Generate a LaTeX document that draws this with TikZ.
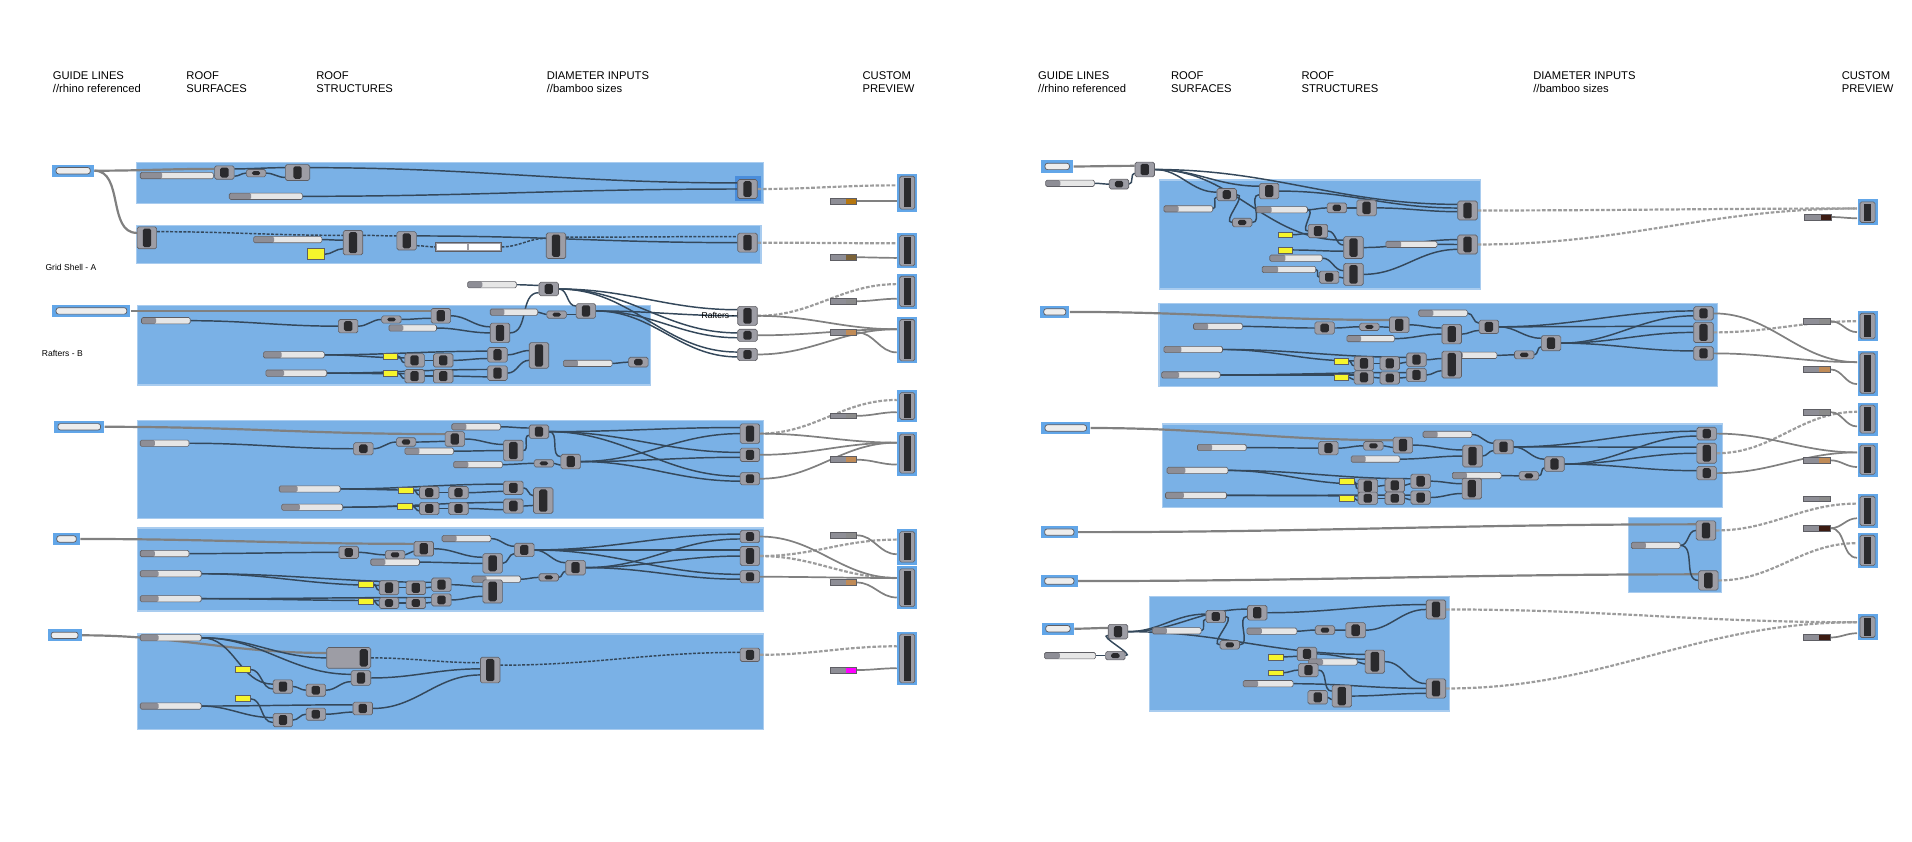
\documentclass[tikz,border=0pt]{standalone}
\usepackage{fontspec}
\setmainfont{Liberation Sans}
\pgfdeclarelayer{background}
\pgfdeclarelayer{wires}
\pgfsetlayers{background,wires,main}

\definecolor{grpfill}{HTML}{7AB1E6}
\definecolor{grpline}{HTML}{A9CCEF}
\definecolor{frameblue}{HTML}{62A6E8}
\definecolor{hiblue}{HTML}{4A8DDB}
\definecolor{compbody}{HTML}{9D9DA5}
\definecolor{compedge}{HTML}{5E5E64}
\definecolor{compdark}{HTML}{2A2A2D}
\definecolor{sllabel}{HTML}{8E8E96}
\definecolor{slbody}{HTML}{E6E6E6}
\definecolor{wirecol}{HTML}{34485B}
\definecolor{guidecol}{HTML}{808080}
\definecolor{dashcol}{HTML}{9C9C9C}
\definecolor{panelyel}{HTML}{F6F52C}
\definecolor{swbrown}{HTML}{B5760F}
\definecolor{swolive}{HTML}{7B6238}
\definecolor{swgrey}{HTML}{8B8B8B}
\definecolor{swtan}{HTML}{C08B57}
\definecolor{swdark}{HTML}{3C1B12}
\definecolor{swpink}{HTML}{FF00FF}

\tikzset{
  hdr/.style={anchor=north west, inner sep=0pt, align=left, font=\fontsize{4.6}{5.1}\selectfont},
  lbl/.style={anchor=base west, inner sep=0pt, font=\fontsize{3.5}{4}\selectfont},
  grp/.style={fill=grpfill, draw=grpline, line width=0.5pt},
  comp/.style={draw=compedge, fill=compbody, line width=0.25pt, rounded corners=0.7pt,
    minimum width=8pt, minimum height=#1, inner sep=0pt,
    path picture={\fill[compdark] ([xshift=-1.7pt,yshift=-0.7pt]path picture bounding box.north)
      rectangle ([xshift=1.7pt,yshift=0.7pt]path picture bounding box.south);}},
  comp/.default=6pt,
  slider/.style={draw=compedge, fill=slbody, line width=0.25pt, rounded corners=0.6pt,
    minimum width=#1, minimum height=2.6pt, inner sep=0pt,
    path picture={\fill[sllabel] (path picture bounding box.south west)
      rectangle ([xshift=0.3*#1]path picture bounding box.north west);}},
  ypanel/.style={draw=compedge, fill=panelyel, line width=0.25pt, minimum width=6pt,
    minimum height=2.4pt, inner sep=0pt},
  txtpanel/.style={draw=compedge, fill=compbody, line width=0.25pt, minimum width=27pt,
    minimum height=3.5pt, inner sep=0pt,
    path picture={\fill[white] ([shift={(0.5pt,-0.6pt)}]path picture bounding box.north west)
      rectangle ([shift={(-0.4pt,0.6pt)}]path picture bounding box.south);
      \fill[white] ([shift={(0.4pt,-0.6pt)}]path picture bounding box.north)
      rectangle ([shift={(-0.5pt,0.6pt)}]path picture bounding box.south east);}},
  guide/.style={fill=frameblue, minimum width=#1+3pt, minimum height=5pt, inner sep=0pt,
    path picture={\draw[compedge, fill=slbody!70, line width=0.3pt, rounded corners=1pt]
      ([shift={(1.5pt,-1.2pt)}]path picture bounding box.north west)
      rectangle ([shift={(-1.5pt,1.2pt)}]path picture bounding box.south east);}},
  preview/.style={fill=frameblue, minimum width=8.2pt, minimum height=#1+2pt, inner sep=0pt,
    path picture={\draw[compedge, fill=compbody, line width=0.25pt, rounded corners=0.7pt]
      ([shift={(1pt,-1pt)}]path picture bounding box.north west)
      rectangle ([shift={(-1pt,1pt)}]path picture bounding box.south east);
      \fill[compdark] ([shift={(-1.5pt,-1.7pt)}]path picture bounding box.north)
      rectangle ([shift={(1.5pt,1.7pt)}]path picture bounding box.south);}},
  swatch/.style={draw=compedge, fill=sllabel, line width=0.25pt, minimum width=11pt,
    minimum height=2.4pt, inner sep=0pt,
    path picture={\fill[#1] ([xshift=-4.5pt]path picture bounding box.north east)
      rectangle (path picture bounding box.south east);}},
  wire/.style={draw=wirecol, line width=0.6pt, out=0, in=180},
  treewire/.style={wire, dash pattern=on 1.2pt off 0.6pt},
  guidewire/.style={draw=guidecol, line width=0.9pt, out=0, in=180},
  outwire/.style={draw=guidecol, line width=0.7pt, out=0, in=180},
  prevwire/.style={draw=dashcol, line width=0.9pt, dash pattern=on 1.5pt off 0.7pt, out=0, in=180}
}

\begin{document}
\begin{tikzpicture}[x=0.5pt, y=-0.5pt]
\useasboundingbox (0,0) rectangle (1568,690.5);

% headers
\node[hdr] (hGuideL) at (43,58.5) {GUIDE LINES\\//rhino referenced};
\node[hdr] (hSurfL) at (152.5,58.5) {ROOF\\SURFACES};
\node[hdr] (hStructL) at (259,58.5) {ROOF\\STRUCTURES};
\node[hdr] (hDiamL) at (448,58.5) {DIAMETER INPUTS\\//bamboo sizes};
\node[hdr] (hPrevL) at (707,58.5) {CUSTOM\\PREVIEW};
\node[hdr] (hGuideR) at (851,58.5) {GUIDE LINES\\//rhino referenced};
\node[hdr] (hSurfR) at (960,58.5) {ROOF\\SURFACES};
\node[hdr] (hStructR) at (1067,58.5) {ROOF\\STRUCTURES};
\node[hdr] (hDiamR) at (1257,58.5) {DIAMETER INPUTS\\//bamboo sizes};
\node[hdr] (hPrevR) at (1510,58.5) {CUSTOM\\PREVIEW};

\node[lbl] (lblGrid) at (37,222) {Grid Shell - A};
\node[lbl] (lblRaftL) at (34,292.5) {Rafters - B};
\node[lbl] (lblRaftM) at (575,261) {Rafters - B};

% groups
\begin{pgfonlayer}{background}
  \path[grp] (112,133) rectangle (626,167);
  \fill[hiblue] (602.7,144) rectangle (623.7,165);
  \path[grp] (112,185) rectangle (624,216);
  \path[grp] (113,250.7) rectangle (533.5,315.7);
  \path[grp] (113,345) rectangle (626,425);
  \path[grp] (113,433) rectangle (626,501);
  \path[grp] (113,520) rectangle (626,598);
  \path[grp] (951,147.6) rectangle (1214,237);
  \path[grp] (950.5,248.7) rectangle (1408.4,317);
  \path[grp] (953.3,347.7) rectangle (1412.5,416);
  \path[grp] (1335.4,424.2) rectangle (1411.6,485.7);
  \path[grp] (942.7,489.2) rectangle (1188.4,583);
\end{pgfonlayer}

% previews and swatches, left
\node[preview=13.5pt] (p1) at (744,158) {};
\node[preview=12.5pt] (p2) at (744,205.5) {};
\node[preview=12.5pt] (p3) at (744,239) {};
\node[preview=17pt] (p4) at (744,279) {};
\node[preview=11pt] (p5) at (744,333) {};
\node[preview=16pt] (p6) at (744,372) {};
\node[preview=12.5pt] (p7) at (744,448.5) {};
\node[preview=15.5pt] (p8) at (744,482) {};
\node[preview=20pt] (p9) at (744,540) {};
\node[swatch=swbrown] (s1) at (691.5,165) {};
\node[swatch=swolive] (s2) at (691.5,211) {};
\node[swatch=swgrey] (s3) at (691.5,247) {};
\node[swatch=swtan] (s4) at (691.5,272.6) {};
\node[swatch=swgrey] (s5) at (691.5,341) {};
\node[swatch=swtan] (s6) at (691.5,377) {};
\node[swatch=swgrey] (s7) at (691.5,439) {};
\node[swatch=swtan] (s8) at (691.5,477.7) {};
\node[swatch=swpink] (s9) at (691.5,549.5) {};

% G1
\node[guide=14pt] (g1in) at (60,140) {};
\node[slider=30pt] (g1sl) at (145,144) {};
\node[comp=5.5pt] (g1br) at (184,141.5) {};
\node[comp=3pt] (g1e) at (210,142) {};
\node[comp=6.5pt, minimum width=10pt] (g1bn) at (244,141.5) {};
\node[slider=30pt] (g1sl2) at (218,161) {};
\node[comp=7.8pt] (g1pipe) at (613,155) {};

% G2
\node[comp=9pt] (g2pf) at (120.5,195) {};
\node[slider=28pt] (g2sl) at (236,196.5) {};
\node[ypanel, minimum width=7pt, minimum height=4.5pt] (g2pan) at (259,208.5) {};
\node[comp=10pt] (g2poly) at (289.5,199) {};
\node[comp=7.5pt] (g2exp) at (333.5,197.5) {};
\node[txtpanel] (g2txt) at (384,202.5) {};
\node[comp=10.5pt] (g2int) at (456,201.5) {};
\node[comp=7.8pt] (g2pipe) at (613,199) {};

% G3
\node[guide=29pt] (g3in) at (75,255) {};
\node[slider=20pt] (g3rad) at (403.5,233.5) {};
\node[comp=5.5pt] (g3ctr) at (450,237) {};
\node[slider=20pt] (g3rsl) at (136,263) {};
\node[comp=5.5pt] (g3sd) at (285.5,267.5) {};
\node[comp=3pt] (g3pt) at (321,262) {};
\node[comp=6pt] (g3mv) at (361.5,259) {};
\node[slider=19.5pt] (g3cnt) at (338.5,269) {};
\node[comp=8pt] (g3pl) at (410,273) {};
\node[slider=19.5pt] (g3fac) at (421.5,256) {};
\node[comp=3pt] (g3x) at (456.5,258) {};
\node[comp=6pt] (g3mv2) at (480.5,255) {};
\node[comp=7.8pt] (g3pipe) at (613,259) {};
\node[comp=5pt] (g3lfa) at (613,275) {};
\node[comp=5pt] (g3lfb) at (613,290.7) {};
\node[slider=25pt] (g3gi1) at (241,291) {};
\node[slider=25pt] (g3gi2) at (243,306) {};
\node[ypanel] (g3ya) at (320,292) {};
\node[ypanel] (g3yb) at (320,306) {};
\node[comp=5.5pt] (g3a) at (340,295.5) {};
\node[comp=5.5pt] (g3b) at (363.5,295.5) {};
\node[comp=5.5pt] (g3c) at (340,308.5) {};
\node[comp=5.5pt] (g3d) at (363.5,308.5) {};
\node[comp=6pt] (g3e) at (408,291) {};
\node[comp=6pt] (g3f) at (408,306) {};
\node[comp=10.5pt] (g3rect) at (442,291.5) {};
\node[slider=20pt] (g3fac2) at (482,298) {};
\node[comp=4pt] (g3z) at (523.5,297) {};

% G4
\node[guide=17.5pt] (g4in) at (65,350) {};
\node[slider=20pt] (g4tot) at (135,363.5) {};
\node[comp=5pt] (g4sd) at (298,368) {};
\node[comp=3.5pt] (g4pt) at (333,362.5) {};
\node[comp=6pt] (g4mv) at (373,360) {};
\node[slider=20pt] (g4rad) at (390.5,350) {};
\node[comp=5.5pt] (g4ctr) at (442,354) {};
\node[slider=20pt] (g4cnt) at (352,370) {};
\node[comp=8.5pt] (g4pl) at (421,369.5) {};
\node[slider=20pt] (g4fac) at (392,381) {};
\node[comp=3pt] (g4x) at (446,380) {};
\node[comp=6pt] (g4mv2) at (468,378.5) {};
\node[comp=8pt] (g4pipe) at (615,355.6) {};
\node[comp=5.5pt] (g4lfa) at (615,373) {};
\node[comp=5pt] (g4lfb) at (615,392.6) {};
\node[slider=25pt] (g4gi1) at (254,401) {};
\node[slider=25pt] (g4gi2) at (256,416) {};
\node[ypanel] (g4ya) at (333,402) {};
\node[ypanel] (g4yb) at (332,415.3) {};
\node[comp=5pt] (g4a) at (352,404) {};
\node[comp=5pt] (g4b) at (376,404) {};
\node[comp=5pt] (g4c) at (352,417) {};
\node[comp=5pt] (g4d) at (376,417) {};
\node[comp=5.5pt] (g4e) at (421,400) {};
\node[comp=5.75pt] (g4f) at (421,415) {};
\node[comp=10.5pt] (g4rect) at (445.5,410.5) {};

% G5
\node[guide=8pt] (g5in) at (54.6,442) {};
\node[slider=20pt] (g5tot) at (135,454) {};
\node[comp=5pt] (g5sd) at (286,453) {};
\node[comp=3.5pt] (g5pt) at (324,455) {};
\node[comp=6pt] (g5mv) at (347.5,450) {};
\node[slider=20pt] (g5rad) at (382.5,441.7) {};
\node[comp=5.5pt] (g5ctr) at (430,451) {};
\node[slider=20pt] (g5cnt) at (324,461) {};
\node[comp=8pt] (g5pl) at (404,462) {};
\node[comp=6pt] (g5mv2) at (472,465.5) {};
\node[comp=3pt] (g5x) at (450,473.5) {};
\node[slider=20pt] (g5fac) at (407,475) {};
\node[slider=25pt] (g5gi1) at (140,470.5) {};
\node[slider=25pt] (g5gi2) at (140,491) {};
\node[ypanel] (g5ya) at (300,479) {};
\node[ypanel] (g5yb) at (300,493) {};
\node[comp=5.75pt] (g5a) at (319,482) {};
\node[comp=5.5pt] (g5b) at (341,482) {};
\node[comp=5.5pt] (g5c) at (362,479.5) {};
\node[comp=4.5pt] (g5d) at (319,494.5) {};
\node[comp=4.5pt] (g5e) at (341,494.5) {};
\node[comp=5pt] (g5f) at (362,492) {};
\node[comp=9.5pt] (g5rect) at (404,485) {};
\node[comp=5pt] (g5lfa) at (615,440) {};
\node[comp=7.8pt] (g5pipe) at (615,456) {};
\node[comp=5pt] (g5lfb) at (615,473) {};

% G6
\node[guide=11pt] (g6in) at (53,521) {};
\node[slider=25pt] (g6gi) at (140,523) {};
\node[comp=8.5pt, minimum width=18pt, path picture={\fill[compdark]
  ([xshift=-4.5pt,yshift=-0.7pt]path picture bounding box.north east)
  rectangle ([xshift=-1.2pt,yshift=0.7pt]path picture bounding box.south east);}] (g6big) at (286,539.5) {};
\node[ypanel] (g6ya) at (199,549) {};
\node[ypanel] (g6yb) at (199,573) {};
\node[comp=5.5pt] (g6a) at (232,563) {};
\node[comp=5pt] (g6b) at (259,566) {};
\node[comp=6pt] (g6c) at (296,556) {};
\node[comp=5.5pt] (g6d) at (232,590.5) {};
\node[comp=5pt] (g6e) at (259,585.7) {};
\node[comp=5.25pt] (g6f) at (297.5,581) {};
\node[comp=10.5pt] (g6rect) at (402,549.5) {};
\node[comp=5.5pt] (g6loft) at (615,537) {};
\node[slider=25pt] (g6gi2) at (140,579) {};

% right previews and swatches
\node[preview=8.5pt] (pr1) at (1531.5,174) {};
\node[preview=10.5pt] (pr2) at (1531.5,267.4) {};
\node[preview=16.5pt] (pr3) at (1531.5,306) {};
\node[preview=11.5pt] (pr4) at (1531.5,343.7) {};
\node[preview=12pt] (pr5) at (1531.5,377) {};
\node[preview=12pt] (pr6) at (1531.5,419) {};
\node[preview=12.5pt] (pr7) at (1531.5,451.4) {};
\node[preview=8.5pt] (pr8) at (1531.5,514.3) {};
\node[swatch=swdark] (sr1) at (1491,178) {};
\node[swatch=swgrey] (sr2) at (1490,263.4) {};
\node[swatch=swtan] (sr3) at (1490,303) {};
\node[swatch=swgrey] (sr4) at (1490,338) {};
\node[swatch=swtan] (sr5) at (1490,377.5) {};
\node[swatch=swgrey] (sr6) at (1490,409) {};
\node[swatch=swdark] (sr7) at (1490,433.2) {};
\node[swatch=swdark] (sr8) at (1490,522.8) {};

% RG1
\node[guide=10pt] (r1in) at (867,136.5) {};
\node[comp=6pt] (r1ex) at (938.8,139) {};
\node[slider=20pt] (r1sl) at (877.5,150.3) {};
\node[comp=4pt] (r1n) at (917.7,151) {};
\node[comp=5pt] (r1sd) at (1006,159.6) {};
\node[comp=6.35pt] (r1mv) at (1040.8,156.7) {};
\node[slider=20pt] (r1val) at (974.5,171.3) {};
\node[comp=3.5pt] (r1sm) at (1018.7,182.5) {};
\node[slider=21pt] (r1sl2) at (1051.2,172) {};
\node[comp=4pt] (r1z) at (1096.3,170.5) {};
\node[comp=6.5pt] (r1mv2) at (1120.7,170.5) {};
\node[comp=7.8pt] (r1pipe) at (1203.5,172.6) {};
\node[comp=5.5pt] (r1q) at (1080.8,189.5) {};
\node[ypanel] (r1ya) at (1054,192.5) {};
\node[ypanel] (r1yb) at (1054,205) {};
\node[comp=9pt] (r1off) at (1110,203) {};
\node[slider=21pt] (r1rad) at (1157.5,200.4) {};
\node[comp=7.8pt] (r1pipe2) at (1203.5,200.5) {};
\node[slider=21.5pt] (r1dist) at (1062.8,211.7) {};
\node[slider=22pt] (r1val2) at (1057,221) {};
\node[comp=5pt] (r1w) at (1090,227.3) {};
\node[comp=9pt] (r1off2) at (1110,225) {};

% RG2
\node[guide=9pt] (r2in) at (865,255.8) {};
\node[slider=20pt] (r2tot) at (998.8,267.7) {};
\node[comp=5pt] (r2sd) at (1086.3,269) {};
\node[comp=3pt] (r2pt) at (1123,268) {};
\node[comp=6.4pt] (r2mv) at (1147.5,266.4) {};
\node[slider=20pt] (r2rad) at (1183.4,256.8) {};
\node[comp=8pt] (r2pl) at (1190.5,274) {};
\node[slider=19.5pt] (r2cnt) at (1124,277.7) {};
\node[comp=5.5pt] (r2ctr) at (1221,268) {};
\node[comp=6.2pt] (r2mv2) at (1272,281.4) {};
\node[slider=20pt] (r2fac) at (1207.6,291.4) {};
\node[comp=3.3pt] (r2x) at (1250,291) {};
\node[slider=24pt] (r2gi1) at (978.5,286.6) {};
\node[slider=24pt] (r2gi2) at (976.6,307.5) {};
\node[ypanel] (r2ya) at (1100,296) {};
\node[ypanel] (r2yb) at (1100,309.5) {};
\node[comp=5.75pt] (r2a) at (1118.5,298) {};
\node[comp=5.5pt] (r2b) at (1139.7,298) {};
\node[comp=5.5pt] (r2c) at (1161.6,295) {};
\node[comp=5.5pt] (r2d) at (1118.5,309.5) {};
\node[comp=5pt] (r2e) at (1139.7,310) {};
\node[comp=5.5pt] (r2f) at (1161.6,307.5) {};
\node[comp=11pt] (r2rect) at (1190.5,299) {};
\node[comp=5.5pt] (r2lfa) at (1397,257) {};
\node[comp=8.3pt] (r2pipe) at (1397,272.6) {};
\node[comp=5.5pt] (r2lfb) at (1397,289.8) {};

% RG3
\node[guide=17pt] (r3in) at (874,351) {};
\node[slider=20pt] (r3tot) at (1002,367) {};
\node[comp=5.5pt] (r3sd) at (1089.4,367.5) {};
\node[comp=3.5pt] (r3pt) at (1126.3,365.6) {};
\node[comp=6.5pt] (r3mv) at (1150.5,365) {};
\node[slider=20pt] (r3rad) at (1187,356.3) {};
\node[comp=9pt] (r3pl) at (1207.6,374) {};
\node[slider=20pt] (r3cnt) at (1128,376.5) {};
\node[comp=5.75pt] (r3ctr) at (1233,366.5) {};
\node[comp=6pt] (r3mv2) at (1274.8,380.6) {};
\node[slider=20pt] (r3fac) at (1211,390) {};
\node[comp=3.4pt] (r3x) at (1253.8,390.2) {};
\node[slider=25pt] (r3gi1) at (982,385.8) {};
\node[slider=25pt] (r3gi2) at (980.8,406.3) {};
\node[ypanel] (r3ya) at (1104.3,395) {};
\node[ypanel] (r3yb) at (1104.3,408.6) {};
\node[comp=6pt] (r3a) at (1121.7,398.8) {};
\node[comp=5.5pt] (r3b) at (1143.8,398) {};
\node[comp=5.8pt] (r3c) at (1165,394.6) {};
\node[comp=5pt] (r3d) at (1121.7,408.6) {};
\node[comp=5pt] (r3e) at (1143.8,408.6) {};
\node[comp=5.5pt] (r3f) at (1165,408) {};
\node[comp=8.5pt] (r3rect) at (1207,400.7) {};
\node[comp=5.2pt] (r3lfa) at (1399.6,355.6) {};
\node[comp=8.2pt] (r3pipe) at (1399.6,371.7) {};
\node[comp=5.5pt] (r3lfb) at (1399.6,388) {};

% RG4
\node[guide=12pt] (r4ina) at (868.7,436.4) {};
\node[guide=12pt] (r4inb) at (868.7,476.5) {};
\node[comp=7.9pt] (r4pa) at (1399,435) {};
\node[slider=20pt] (r4sl) at (1357.8,447.3) {};
\node[comp=7.9pt] (r4pb) at (1401,476) {};

% RG5
\node[guide=10pt] (r5in) at (867.6,515.6) {};
\node[comp=6pt] (r5ex) at (916.8,518) {};
\node[slider=21pt] (r5sl) at (877.5,537.7) {};
\node[comp=3.5pt] (r5n) at (914.7,537.7) {};
\node[slider=20pt] (r5val) at (965,517.3) {};
\node[comp=5pt] (r5sd) at (997,505.6) {};
\node[comp=6pt] (r5mv) at (1031,502.5) {};
\node[comp=3.5pt] (r5sm) at (1008.5,528.8) {};
\node[slider=20.5pt] (r5sl2) at (1043,517.6) {};
\node[comp=3.5pt] (r5z) at (1086.6,516.7) {};
\node[comp=6.2pt] (r5mv2) at (1111.7,516.8) {};
\node[comp=7.8pt] (r5pipe) at (1177.6,499.8) {};
\node[ypanel] (r5ya) at (1046,538.7) {};
\node[ypanel] (r5yb) at (1046,551.7) {};
\node[comp=5.5pt] (r5q) at (1071.8,536.3) {};
\node[comp=9.5pt] (r5off) at (1127.5,542.6) {};
\node[slider=20pt] (r5dist) at (1093,542.9) {};
\node[comp=5.5pt] (r5w) at (1073,549.5) {};
\node[slider=20.5pt] (r5val2) at (1040,560.7) {};
\node[comp=5.5pt] (r5v) at (1080.6,571.8) {};
\node[comp=9pt] (r5off2) at (1100.4,570.8) {};
\node[comp=7.9pt] (r5pipe2) at (1177.6,564.6) {};

\begin{pgfonlayer}{wires}
% G1
\path[guidewire] (g1in.east) edge ([yshift=1.5pt]g1br.west);
\path[wire] (g1sl.east) edge ([yshift=-1.5pt]g1br.west);
\path[wire] ([yshift=1.5pt]g1br.east) edge ([yshift=2pt]g1bn.west);
\path[wire] ([yshift=-1.5pt]g1br.east) edge (g1e.west);
\path[wire] (g1e.east) edge ([yshift=-2pt]g1bn.west);
\path[wire] ([yshift=2pt]g1bn.east) edge ([yshift=2.5pt]g1pipe.west);
\path[wire] (g1sl2.east) edge (g1pipe.west);
\path[prevwire] (g1pipe.east) edge ([yshift=3pt]p1.west);
\path[outwire] (s1.east) edge ([yshift=-3.5pt]p1.west);
% G2
\path[guidewire] (g1in.east) edge ([yshift=2pt]g2pf.west);
\path[treewire] ([yshift=2.5pt]g2pf.east) edge ([yshift=3pt]g2poly.west);
\path[wire] (g2sl.east) edge ([yshift=1pt]g2poly.west);
\path[wire] (g2pan.east) edge ([yshift=-2.5pt]g2poly.west);
\path[treewire] ([yshift=3pt]g2poly.east) edge ([yshift=2pt]g2exp.west);
\path[wire] ([yshift=2pt]g2exp.east) edge (g2pipe.west);
\path[treewire] ([yshift=-2pt]g2exp.east) edge (g2txt.west);
\path[treewire] (g2txt.east) edge ([yshift=3pt]g2int.west);
\path[treewire] ([yshift=3.5pt]g2int.east) edge ([yshift=2.5pt]g2pipe.west);
\path[prevwire] (g2pipe.east) edge ([yshift=3pt]p2.west);
\path[outwire] (s2.east) edge ([yshift=-3pt]p2.west);
% G3
\path[guidewire] (g3in.east) edge ([yshift=2pt]g3mv.west);
\path[wire] (g3rsl.east) edge (g3sd.west);
\path[wire] (g3sd.east) edge (g3pt.west);
\path[wire] (g3pt.east) edge ([yshift=-1pt]g3mv.west);
\path[wire] (g3mv.east) edge ([yshift=2.5pt]g3pl.west);
\path[wire] (g3cnt.east) edge (g3pl.west);
\path[wire] (g3pl.east) edge ([yshift=-1.5pt]g3ctr.west);
\path[wire] (g3rad.east) edge ([yshift=1.5pt]g3ctr.west);
\path[wire] (g3ctr.east) edge ([yshift=2pt]g3mv2.west);
\path[wire] (g3ctr.east) edge ([yshift=2.5pt]g3pipe.west);
\path[wire] (g3ctr.east) edge ([yshift=1pt]g3lfa.west);
\path[wire] (g3ctr.east) edge ([yshift=1pt]g3lfb.west);
\path[wire] (g3fac.east) edge (g3x.west);
\path[wire] (g3x.east) edge ([yshift=-1.5pt]g3mv2.west);
\path[wire] (g3mv2.east) edge (g3pipe.west);
\path[wire] (g3mv2.east) edge ([yshift=-1pt]g3lfa.west);
\path[wire] (g3mv2.east) edge ([yshift=-1pt]g3lfb.west);
\path[wire] (g3gi1.east) edge ([yshift=1pt]g3a.west);
\path[wire] (g3ya.east) edge ([yshift=-1pt]g3a.west);
\path[wire] (g3a.east) edge (g3b.west);
\path[wire] (g3gi1.east) edge ([yshift=1.5pt]g3e.west);
\path[wire] (g3b.east) edge ([yshift=-1.5pt]g3e.west);
\path[wire] (g3gi2.east) edge ([yshift=1pt]g3c.west);
\path[wire] (g3yb.east) edge ([yshift=-1pt]g3c.west);
\path[wire] (g3c.east) edge (g3d.west);
\path[wire] (g3gi2.east) edge ([yshift=1.5pt]g3f.west);
\path[wire] (g3d.east) edge ([yshift=-1.5pt]g3f.west);
\path[wire] (g3e.east) edge ([yshift=2pt]g3rect.west);
\path[wire] (g3f.east) edge ([yshift=-2pt]g3rect.west);
\path[wire] (g3fac2.east) edge (g3z.west);
\path[prevwire] (g3pipe.east) edge ([yshift=3pt]p3.west);
\path[outwire] (s3.east) edge ([yshift=-3pt]p3.west);
\path[outwire] (g3pipe.east) edge ([yshift=4.5pt]p4.west);
\path[outwire] (g3lfa.east) edge ([yshift=4.5pt]p4.west);
\path[outwire] (g3lfb.east) edge ([yshift=4.5pt]p4.west);
\path[outwire] (s4.east) edge ([yshift=-5pt]p4.west);
% G4
\path[guidewire] (g4in.east) edge ([yshift=2pt]g4mv.west);
\path[wire] (g4tot.east) edge (g4sd.west);
\path[wire] (g4sd.east) edge (g4pt.west);
\path[wire] (g4pt.east) edge ([yshift=-1pt]g4mv.west);
\path[wire] (g4mv.east) edge ([yshift=2.5pt]g4pl.west);
\path[wire] (g4cnt.east) edge (g4pl.west);
\path[wire] (g4pl.east) edge ([yshift=-1.5pt]g4ctr.west);
\path[wire] (g4rad.east) edge ([yshift=1.5pt]g4ctr.west);
\path[wire] (g4ctr.east) edge ([yshift=2pt]g4mv2.west);
\path[wire] (g4ctr.east) edge ([yshift=2.5pt]g4pipe.west);
\path[wire] (g4ctr.east) edge ([yshift=1pt]g4lfa.west);
\path[wire] (g4ctr.east) edge ([yshift=1pt]g4lfb.west);
\path[wire] (g4fac.east) edge (g4x.west);
\path[wire] (g4x.east) edge ([yshift=-1.5pt]g4mv2.west);
\path[wire] (g4mv2.east) edge (g4pipe.west);
\path[wire] (g4mv2.east) edge ([yshift=-1pt]g4lfa.west);
\path[wire] (g4mv2.east) edge ([yshift=-1pt]g4lfb.west);
\path[wire] (g4gi1.east) edge ([yshift=1pt]g4a.west);
\path[wire] (g4ya.east) edge ([yshift=-1pt]g4a.west);
\path[wire] (g4a.east) edge (g4b.west);
\path[wire] (g4gi1.east) edge ([yshift=1.5pt]g4e.west);
\path[wire] (g4b.east) edge ([yshift=-1.5pt]g4e.west);
\path[wire] (g4gi2.east) edge ([yshift=1pt]g4c.west);
\path[wire] (g4yb.east) edge ([yshift=-1pt]g4c.west);
\path[wire] (g4c.east) edge (g4d.west);
\path[wire] (g4gi2.east) edge ([yshift=1.5pt]g4f.west);
\path[wire] (g4d.east) edge ([yshift=-1.5pt]g4f.west);
\path[wire] (g4e.east) edge ([yshift=2pt]g4rect.west);
\path[wire] (g4f.east) edge ([yshift=-2pt]g4rect.west);
\path[prevwire] (g4pipe.east) edge ([yshift=2.5pt]p5.west);
\path[outwire] (s5.east) edge ([yshift=-2.5pt]p5.west);
\path[outwire] (g4pipe.east) edge ([yshift=4.5pt]p6.west);
\path[outwire] (g4lfa.east) edge ([yshift=4.5pt]p6.west);
\path[outwire] (g4lfb.east) edge ([yshift=4.5pt]p6.west);
\path[outwire] (s6.east) edge ([yshift=-4.5pt]p6.west);
% G5
\path[guidewire] (g5in.east) edge ([yshift=2pt]g5mv.west);
\path[wire] (g5tot.east) edge (g5sd.west);
\path[wire] (g5sd.east) edge (g5pt.west);
\path[wire] (g5pt.east) edge ([yshift=-1pt]g5mv.west);
\path[wire] (g5mv.east) edge ([yshift=2.5pt]g5pl.west);
\path[wire] (g5cnt.east) edge (g5pl.west);
\path[wire] (g5pl.east) edge ([yshift=-1.5pt]g5ctr.west);
\path[wire] (g5rad.east) edge ([yshift=1.5pt]g5ctr.west);
\path[wire] (g5ctr.east) edge ([yshift=2pt]g5mv2.west);
\path[wire] (g5ctr.east) edge ([yshift=1pt]g5lfa.west);
\path[wire] (g5ctr.east) edge ([yshift=2.5pt]g5pipe.west);
\path[wire] (g5ctr.east) edge ([yshift=1pt]g5lfb.west);
\path[wire] (g5fac.east) edge (g5x.west);
\path[wire] (g5x.east) edge ([yshift=-1.5pt]g5mv2.west);
\path[wire] (g5mv2.east) edge (g5pipe.west);
\path[wire] (g5mv2.east) edge ([yshift=-1pt]g5lfa.west);
\path[wire] (g5mv2.east) edge ([yshift=-1pt]g5lfb.west);
\path[wire] (g5gi1.east) edge ([yshift=1pt]g5a.west);
\path[wire] (g5ya.east) edge ([yshift=-1pt]g5a.west);
\path[wire] (g5a.east) edge (g5b.west);
\path[wire] (g5gi1.east) edge ([yshift=1pt]g5c.west);
\path[wire] (g5b.east) edge ([yshift=-1pt]g5c.west);
\path[wire] (g5gi2.east) edge ([yshift=1pt]g5d.west);
\path[wire] (g5yb.east) edge ([yshift=-1pt]g5d.west);
\path[wire] (g5d.east) edge (g5e.west);
\path[wire] (g5gi2.east) edge ([yshift=1pt]g5f.west);
\path[wire] (g5e.east) edge ([yshift=-1pt]g5f.west);
\path[wire] (g5c.east) edge ([yshift=2pt]g5rect.west);
\path[wire] (g5f.east) edge ([yshift=-2pt]g5rect.west);
\path[prevwire] (g5pipe.east) edge ([yshift=3pt]p7.west);
\path[prevwire] (g5pipe.east) edge ([yshift=4pt]p8.west);
\path[outwire] (s7.east) edge ([yshift=-3pt]p7.west);
\path[outwire] (g5lfa.east) edge ([yshift=4pt]p8.west);
\path[outwire] (g5lfb.east) edge ([yshift=4pt]p8.west);
\path[outwire] (s8.east) edge ([yshift=-4pt]p8.west);
% G6
\path[guidewire] (g6in.east) edge ([yshift=2pt]g6big.west);
\path[wire] (g6gi.east) edge (g6big.west);
\path[wire] (g6gi.east) edge ([yshift=1pt]g6a.west);
\path[wire] (g6gi.east) edge ([yshift=1.5pt]g6c.west);
\path[wire] (g6ya.east) edge ([yshift=-1pt]g6a.west);
\path[wire] (g6a.east) edge (g6b.west);
\path[wire] (g6b.east) edge ([yshift=-1.5pt]g6c.west);
\path[wire] (g6gi2.east) edge ([yshift=1pt]g6d.west);
\path[wire] (g6gi2.east) edge ([yshift=1.5pt]g6f.west);
\path[wire] (g6yb.east) edge ([yshift=-1pt]g6d.west);
\path[wire] (g6d.east) edge (g6e.west);
\path[wire] (g6e.east) edge ([yshift=-1.5pt]g6f.west);
\path[treewire] (g6big.east) edge ([yshift=3pt]g6rect.west);
\path[wire] (g6c.east) edge ([yshift=0.5pt]g6rect.west);
\path[wire] (g6f.east) edge ([yshift=-2pt]g6rect.west);
\path[treewire] ([yshift=2pt]g6rect.east) edge ([yshift=1pt]g6loft.west);
\path[prevwire] (g6loft.east) edge ([yshift=5pt]p9.west);
\path[outwire] (s9.east) edge ([yshift=-4pt]p9.west);
% RG1
\path[guidewire] (r1in.east) edge ([yshift=1.5pt]r1ex.west);
\path[wire] (r1sl.east) edge (r1n.west);
\path[wire] (r1n.east) edge ([yshift=-1.5pt]r1ex.west);
\path[wire] (r1ex.east) edge ([yshift=1pt]r1sd.west);
\path[wire] (r1ex.east) edge ([yshift=2pt]r1mv.west);
\path[wire] (r1ex.east) edge ([yshift=2.5pt]r1pipe.west);
\path[wire] (r1ex.east) edge ([yshift=3pt]r1off.west);
\path[wire] (r1val.east) edge ([yshift=-1pt]r1sd.west);
\path[wire] (r1sd.east) edge (r1sm.west);
\path[wire] (r1sm.east) edge ([yshift=-1.5pt]r1mv.west);
\path[wire] (r1mv.east) edge ([yshift=1pt]r1pipe.west);
\path[wire] (r1sl2.east) edge (r1z.west);
\path[wire] (r1sl2.east) edge (r1q.west);
\path[wire] (r1z.east) edge (r1mv2.west);
\path[wire] (r1mv2.east) edge ([yshift=-0.5pt]r1pipe.west);
\path[wire] (r1ya.east) edge ([yshift=-1pt]r1q.west);
\path[wire] (r1q.east) edge ([yshift=1pt]r1off.west);
\path[wire] (r1yb.east) edge ([yshift=-1.5pt]r1off.west);
\path[wire] (r1off.east) edge ([yshift=2pt]r1pipe2.west);
\path[wire] (r1rad.east) edge (r1pipe2.west);
\path[wire] (r1dist.east) edge ([yshift=1.5pt]r1off2.west);
\path[wire] (r1val2.east) edge (r1w.west);
\path[wire] (r1w.east) edge ([yshift=-1.5pt]r1off2.west);
\path[wire] (r1off2.east) edge ([yshift=-2pt]r1pipe2.west);
\path[prevwire] (r1pipe.east) edge ([yshift=1.5pt]pr1.west);
\path[prevwire] (r1pipe2.east) edge ([yshift=1.5pt]pr1.west);
\path[outwire] (sr1.east) edge ([yshift=-2.5pt]pr1.west);
% RG2
\path[guidewire] (r2in.east) edge ([yshift=2pt]r2mv.west);
\path[wire] (r2tot.east) edge (r2sd.west);
\path[wire] (r2sd.east) edge (r2pt.west);
\path[wire] (r2pt.east) edge ([yshift=-1pt]r2mv.west);
\path[wire] (r2mv.east) edge ([yshift=2.5pt]r2pl.west);
\path[wire] (r2cnt.east) edge (r2pl.west);
\path[wire] (r2pl.east) edge ([yshift=-1.5pt]r2ctr.west);
\path[wire] (r2rad.east) edge ([yshift=1.5pt]r2ctr.west);
\path[wire] (r2ctr.east) edge ([yshift=2pt]r2mv2.west);
\path[wire] (r2ctr.east) edge ([yshift=1pt]r2lfa.west);
\path[wire] (r2ctr.east) edge ([yshift=2.5pt]r2pipe.west);
\path[wire] (r2fac.east) edge (r2x.west);
\path[wire] (r2x.east) edge ([yshift=-1.5pt]r2mv2.west);
\path[wire] (r2mv2.east) edge (r2pipe.west);
\path[wire] (r2mv2.east) edge ([yshift=-1pt]r2lfa.west);
\path[wire] (r2mv2.east) edge ([yshift=1pt]r2lfb.west);
\path[wire] (r2gi1.east) edge ([yshift=1pt]r2a.west);
\path[wire] (r2ya.east) edge ([yshift=-1pt]r2a.west);
\path[wire] (r2a.east) edge (r2b.west);
\path[wire] (r2gi1.east) edge ([yshift=1pt]r2c.west);
\path[wire] (r2b.east) edge ([yshift=-1pt]r2c.west);
\path[wire] (r2gi2.east) edge ([yshift=1pt]r2d.west);
\path[wire] (r2yb.east) edge ([yshift=-1pt]r2d.west);
\path[wire] (r2d.east) edge (r2e.west);
\path[wire] (r2gi2.east) edge ([yshift=1pt]r2f.west);
\path[wire] (r2e.east) edge ([yshift=-1pt]r2f.west);
\path[wire] (r2c.east) edge ([yshift=2.5pt]r2rect.west);
\path[wire] (r2f.east) edge ([yshift=-2.5pt]r2rect.west);
\path[prevwire] (r2pipe.east) edge ([yshift=2pt]pr2.west);
\path[outwire] (sr2.east) edge ([yshift=-2.5pt]pr2.west);
\path[outwire] (r2lfa.east) edge ([yshift=4.5pt]pr3.west);
\path[outwire] (r2lfb.east) edge ([yshift=4.5pt]pr3.west);
\path[outwire] (sr3.east) edge ([yshift=-4.5pt]pr3.west);
% RG3
\path[guidewire] (r3in.east) edge ([yshift=2pt]r3mv.west);
\path[wire] (r3tot.east) edge (r3sd.west);
\path[wire] (r3sd.east) edge (r3pt.west);
\path[wire] (r3pt.east) edge ([yshift=-1pt]r3mv.west);
\path[wire] (r3mv.east) edge ([yshift=2.5pt]r3pl.west);
\path[wire] (r3cnt.east) edge (r3pl.west);
\path[wire] (r3pl.east) edge ([yshift=-1.5pt]r3ctr.west);
\path[wire] (r3rad.east) edge ([yshift=1.5pt]r3ctr.west);
\path[wire] (r3ctr.east) edge ([yshift=2pt]r3mv2.west);
\path[wire] (r3ctr.east) edge ([yshift=1pt]r3lfa.west);
\path[wire] (r3ctr.east) edge ([yshift=2.5pt]r3pipe.west);
\path[wire] (r3fac.east) edge (r3x.west);
\path[wire] (r3x.east) edge ([yshift=-1.5pt]r3mv2.west);
\path[wire] (r3mv2.east) edge (r3pipe.west);
\path[wire] (r3mv2.east) edge ([yshift=-1pt]r3lfa.west);
\path[wire] (r3mv2.east) edge ([yshift=1pt]r3lfb.west);
\path[wire] (r3gi1.east) edge ([yshift=1pt]r3a.west);
\path[wire] (r3ya.east) edge ([yshift=-1pt]r3a.west);
\path[wire] (r3a.east) edge (r3b.west);
\path[wire] (r3gi1.east) edge ([yshift=1pt]r3c.west);
\path[wire] (r3b.east) edge ([yshift=-1pt]r3c.west);
\path[wire] (r3gi2.east) edge ([yshift=1pt]r3d.west);
\path[wire] (r3yb.east) edge ([yshift=-1pt]r3d.west);
\path[wire] (r3d.east) edge (r3e.west);
\path[wire] (r3gi2.east) edge ([yshift=1pt]r3f.west);
\path[wire] (r3e.east) edge ([yshift=-1pt]r3f.west);
\path[wire] (r3c.east) edge ([yshift=2pt]r3rect.west);
\path[wire] (r3f.east) edge ([yshift=-2pt]r3rect.west);
\path[prevwire] (r3pipe.east) edge ([yshift=3pt]pr4.west);
\path[outwire] (sr4.east) edge ([yshift=-3pt]pr4.west);
\path[outwire] (r3lfa.east) edge ([yshift=3pt]pr5.west);
\path[outwire] (r3lfb.east) edge ([yshift=3pt]pr5.west);
\path[outwire] (sr5.east) edge ([yshift=-3pt]pr5.west);
% RG4
\path[guidewire] (r4ina.east) edge ([yshift=2.5pt]r4pa.west);
\path[guidewire] (r4inb.east) edge ([yshift=2.5pt]r4pb.west);
\path[wire] (r4sl.east) edge (r4pa.west);
\path[wire] (r4sl.east) edge (r4pb.west);
\path[prevwire] (r4pa.east) edge ([yshift=3pt]pr6.west);
\path[prevwire] (r4pb.east) edge ([yshift=3pt]pr7.west);
\path[outwire] (sr7.east) edge ([yshift=-3pt]pr6.west);
\path[outwire] (sr7.east) edge ([yshift=-3pt]pr7.west);
% RG5
\path[guidewire] (r5in.east) edge ([yshift=1.5pt]r5ex.west);
\path[wire] (r5sl.east) edge (r5n.west);
\path[wire] (r5n.east) edge ([yshift=-1.5pt]r5ex.west);
\path[wire] (r5ex.east) edge ([yshift=1pt]r5sd.west);
\path[wire] (r5ex.east) edge ([yshift=1.5pt]r5mv.west);
\path[wire] (r5ex.east) edge ([yshift=3pt]r5off.west);
\path[wire] (r5val.east) edge ([yshift=-1pt]r5sd.west);
\path[wire] (r5sd.east) edge (r5sm.west);
\path[wire] (r5sm.east) edge ([yshift=-1.5pt]r5mv.west);
\path[wire] (r5mv.east) edge ([yshift=2pt]r5pipe.west);
\path[wire] (r5sl2.east) edge (r5z.west);
\path[wire] (r5z.east) edge (r5mv2.west);
\path[wire] (r5mv2.east) edge (r5pipe.west);
\path[wire] (r5ya.east) edge ([yshift=-1pt]r5q.west);
\path[wire] (r5q.east) edge ([yshift=1pt]r5off.west);
\path[wire] (r5dist.east) edge ([yshift=-1pt]r5off.west);
\path[wire] (r5yb.east) edge (r5w.west);
\path[wire] (r5w.east) edge ([yshift=2pt]r5off2.west);
\path[wire] (r5v.east) edge ([yshift=-1.5pt]r5off2.west);
\path[wire] (r5val2.east) edge (r5pipe2.west);
\path[wire] (r5off.east) edge ([yshift=2pt]r5pipe2.west);
\path[wire] (r5off2.east) edge ([yshift=-2pt]r5pipe2.west);
\path[prevwire] (r5pipe.east) edge ([yshift=2pt]pr8.west);
\path[prevwire] (r5pipe2.east) edge ([yshift=2pt]pr8.west);
\path[outwire] (sr8.east) edge ([yshift=-2.5pt]pr8.west);
\end{pgfonlayer}
\end{tikzpicture}
\end{document}
